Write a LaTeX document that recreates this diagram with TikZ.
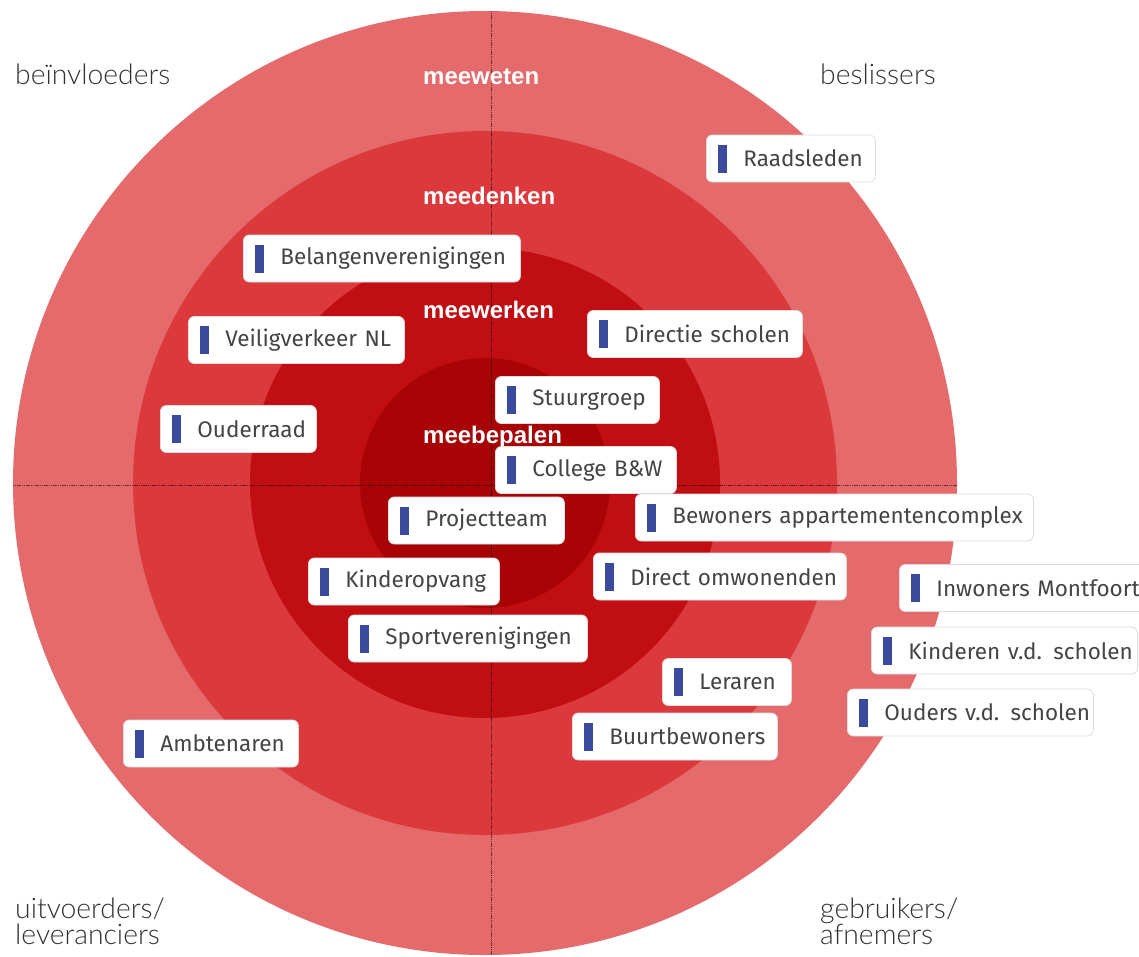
\documentclass[tikz,border=0pt]{standalone}
\usepackage{fontspec}
\setmainfont{Fira Sans}
\newfontfamily\boxfont{Fira Sans}
\newfontfamily\ringfont{Liberation Sans}
\IfFontExistsTF{Lato Light}{\newfontfamily\quadfont{Lato Light}}{\newfontfamily\quadfont{Lato}}
\definecolor{ringA}{RGB}{229,106,108}
\definecolor{ringB}{RGB}{220,57,61}
\definecolor{ringC}{RGB}{192,14,18}
\definecolor{ringD}{RGB}{168,3,5}
\definecolor{barblue}{RGB}{58,74,156}
\definecolor{txtgray}{RGB}{68,68,68}
\definecolor{quadgray}{RGB}{50,50,50}
\definecolor{boxborder}{RGB}{220,220,220}
\tikzset{
  stkbox/.style={draw=boxborder, line width=0.8pt, fill=white, rounded corners=6pt,
    minimum height=47pt, inner xsep=0pt, inner ysep=0pt, align=left, anchor=west,
    font=\boxfont\fontsize{22.5}{25}\selectfont, text=txtgray},
  ringlabel/.style={anchor=base west, inner sep=0pt, text=white,
    font=\ringfont\bfseries\fontsize{24}{28}\selectfont},
  quadlabel/.style={anchor=base west, inner sep=0pt, text=quadgray,
    font=\quadfont\fontsize{28.3}{26}\selectfont, align=left},
  axisline/.style={draw=black, draw opacity=0.55, line width=1pt, dash pattern=on 1.2pt off 0.6pt}
}
\newcommand\stk[5]{%
  \node[stkbox, text width=#3pt, minimum width=#3pt] (#1) at (#2) {\hspace*{37pt}#5};
  \fill[barblue] ([xshift=12pt,yshift=-14pt]#1.west) rectangle ++(9pt,28pt);
}
\begin{document}
\begin{tikzpicture}[x=1pt,y=-1pt]
\useasboundingbox (0,0) rectangle (1139,956);
\fill[ringA] (485,483) circle[radius=472pt];
\fill[ringB] (485,483) circle[radius=352pt];
\fill[ringC] (485,483) circle[radius=235pt];
\fill[ringD] (485,483) circle[radius=125pt];
\coordinate (vt) at (491,11);
\coordinate (vb) at (491,955);
\coordinate (hl) at (13,485);
\coordinate (hr) at (957,485);
\draw[axisline] (vt) -- (vb);
\draw[axisline] (hl) -- (hr);

\node[ringlabel] (rl1) at (423,84) {meeweten};
\node[ringlabel] (rl2) at (423,204) {meedenken};
\node[ringlabel] (rl3) at (423,318) {meewerken};
\node[ringlabel] (rl4) at (423,443) {meebepalen};

\node[quadlabel] (q1) at (15,84) {beïnvloeders};
\node[quadlabel] (q2) at (820,84) {beslissers};
\node[quadlabel, anchor=south west] (q3) at (15,945) {uitvoerders/\\leveranciers};
\node[quadlabel, anchor=south west] (q4) at (820,945) {gebruikers/\\afnemers};

\stk{s1}{706,158.5}{169}{}{Raadsleden}
\stk{s2}{243,258.5}{277}{}{Belangenverenigingen}
\stk{s3}{188,340}{216}{}{Veiligverkeer NL}
\stk{s4}{587,334}{215}{}{Directie scholen}
\stk{s5}{495,400}{164}{}{Stuurgroep}
\stk{s6}{160,429}{156}{}{Ouderraad}
\stk{s7}{495,470}{181}{}{College B\&W}
\stk{s8}{388,520.5}{176}{}{Projectteam}
\stk{s9}{635,517.5}{398}{}{Bewoners appartementencomplex}
\stk{s10}{593,576.5}{253}{}{Direct omwonenden}
\stk{s11}{308,581.5}{191}{}{Kinderopvang}
\stk{s12}{899,588}{246}{}{Inwoners Montfoort}
\stk{s13}{348,638.5}{239}{}{Sportverenigingen}
\stk{s14}{871,650.5}{266}{}{Kinderen v.d. scholen}
\stk{s15}{662,682}{129}{}{Leraren}
\stk{s16}{847,712.5}{246}{}{Ouders v.d. scholen}
\stk{s17}{572,736.5}{205}{}{Buurtbewoners}
\stk{s18}{123,743.5}{175}{}{Ambtenaren}
\end{tikzpicture}
\end{document}
